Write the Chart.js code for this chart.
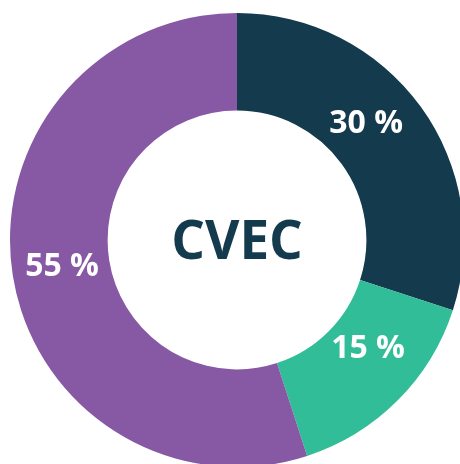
<!DOCTYPE html>
<html>
<head>
<meta charset="utf-8">
<script src="https://cdn.jsdelivr.net/npm/chart.js@4"></script>
<style>
  html, body { margin: 0; padding: 0; background: #fff; overflow: hidden; width: 460px; height: 464px; }
  #wrap { position: absolute; left: 0; top: 0; width: 474px; height: 480px; }
</style>
</head>
<body>
<div id="wrap"><canvas id="donut"></canvas></div>
<script>
const labels = ["Part A", "Part B", "Part C"];
const values = [30, 15, 55];
const colors = ["#143A4D", "#32BD99", "#8758A4"];
const centerText = "CVEC";

// small nudges of each label from the slice centre
const labelNudge = [[-15, -11], [5, -17], [1, -1]];

const labelPlugin = {
  id: "labels",
  afterDatasetsDraw(chart) {
    const ctx = chart.ctx;
    const meta = chart.getDatasetMeta(0);
    ctx.save();
    ctx.fillStyle = "#fff";
    ctx.font = "bold 32px 'Open Sans'";
    ctx.textAlign = "center";
    ctx.textBaseline = "middle";
    meta.data.forEach((arc, i) => {
      const p = arc.tooltipPosition();
      ctx.fillText(values[i] + " %", p.x + labelNudge[i][0], p.y + labelNudge[i][1]);
    });

    const a = chart.chartArea;
    ctx.fillStyle = colors[0];
    ctx.font = "bold 53px 'Open Sans'";
    ctx.fillText(centerText, (a.left + a.right) / 2, (a.top + a.bottom) / 2 + 4);
    ctx.restore();
  }
};

new Chart(document.getElementById("donut"), {
  type: "doughnut",
  data: {
    labels,
    datasets: [{
      data: values,
      backgroundColor: colors,
      borderWidth: 0,
      radius: 227
    }]
  },
  options: {
    responsive: true,
    maintainAspectRatio: false,
    animation: false,
    cutout: "57%",
    layout: { padding: 0 },
    plugins: {
      legend: { display: false },
      tooltip: { enabled: false }
    }
  },
  plugins: [labelPlugin]
});
</script>
</body>
</html>
